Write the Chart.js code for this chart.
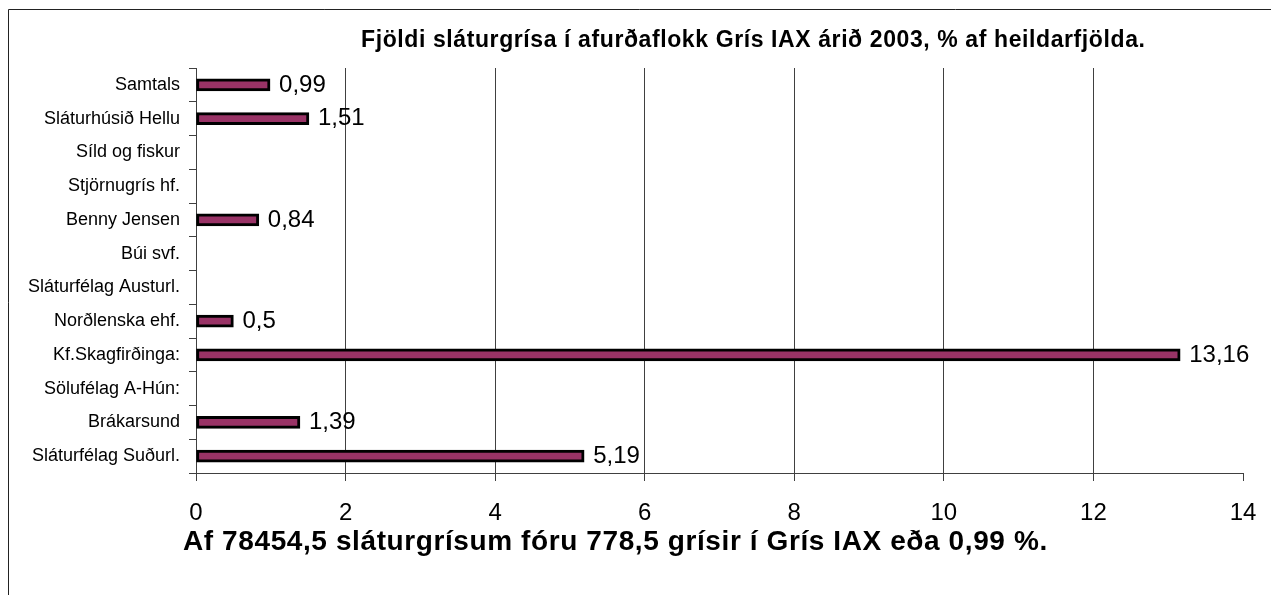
<!DOCTYPE html>
<html>
<head>
<meta charset="utf-8">
<script src="https://cdn.jsdelivr.net/npm/chart.js@4"></script>
<style>
  html, body { margin: 0; padding: 0; background: #fff; }
  #wrap { width: 1271px; height: 595px; position: relative; }
</style>
</head>
<body>
<div id="wrap"><canvas id="myBarChart"></canvas></div>
<script>
// data, top to bottom
var categories = ['Samtals', 'Sláturhúsið Hellu', 'Síld og fiskur', 'Stjörnugrís hf.', 'Benny Jensen', 'Búi svf.',
  'Sláturfélag Austurl.', 'Norðlenska ehf.', 'Kf.Skagfirðinga:', 'Sölufélag A-Hún:', 'Brákarsund', 'Sláturfélag Suðurl.'];
var percentIAX = [0.99, 1.51, null, null, 0.84, null, null, 0.5, 13.16, null, 1.39, 5.19];
var xTicks = [0, 2, 4, 6, 8, 10, 12, 14];

var chartTitle = 'Fjöldi sláturgrísa í afurðaflokk Grís IAX árið 2003, % af heildarfjölda.';
var caption = 'Af 78454,5 sláturgrísum fóru 778,5 grísir í Grís IAX eða 0,99 %.';

var FONT = '"Liberation Sans", Arial, sans-serif';

// frame, title, caption and value labels
var decorations = {
  id: 'decorations',
  beforeDraw: function(chart) {
    var c = chart.ctx;
    c.save();
    c.strokeStyle = '#222';
    c.lineWidth = 1;
    c.beginPath();
    c.moveTo(8.5, 595);
    c.lineTo(8.5, 9.5);
    c.lineTo(1271, 9.5);
    c.stroke();
    c.restore();
  },
  afterDatasetsDraw: function(chart) {
    var c = chart.ctx;
    c.save();
    c.fillStyle = '#000';
    c.font = '24px ' + FONT;
    c.textBaseline = 'middle';
    c.textAlign = 'left';
    var meta = chart.getDatasetMeta(0);
    meta.data.forEach(function(bar, i) {
      var v = percentIAX[i];
      if (v === null) return;
      c.fillText(String(v).replace('.', ','), bar.x + 9, bar.y);
    });

    c.textBaseline = 'alphabetic';
    c.font = 'bold 23px ' + FONT;
    c.letterSpacing = '0.6px';
    c.textAlign = 'left';
    c.fillText(chartTitle, 361, 47);

    c.font = 'bold 28px ' + FONT;
    c.letterSpacing = '0.6px';
    c.fillText(caption, 183, 550);
    c.restore();
  }
};

document.addEventListener('DOMContentLoaded', function() {
  var ctx = document.getElementById('myBarChart').getContext('2d');
  new Chart(ctx, {
    type: 'bar',
    data: {
      labels: categories,
      datasets: [{
        data: percentIAX,
        backgroundColor: '#993366',
        borderColor: '#000',
        borderWidth: 3,
        borderSkipped: false,
        barThickness: 12
      }]
    },
    options: {
      indexAxis: 'y',
      responsive: true,
      maintainAspectRatio: false,
      animation: false,
      layout: { padding: { left: 0, top: 68, right: 28, bottom: 66 } },
      plugins: {
        legend: { display: false },
        tooltip: { enabled: false }
      },
      scales: {
        x: {
          min: 0,
          max: 14,
          afterBuildTicks: function(s) { s.ticks = xTicks.map(function(v) { return { value: v }; }); },
          afterFit: function(s) { s.height = 56; s.paddingLeft = 0; s.paddingRight = 0; },
          grid: {
            color: function(c) { return (c.tick && (c.tick.value === 14 || c.tick.value === 0)) ? 'rgba(0,0,0,0)' : '#404040'; },
            tickColor: '#404040',
            tickLength: 8,
            lineWidth: 1
          },
          border: { color: '#404040', width: 1 },
          ticks: { color: '#000', font: { family: FONT, size: 24 }, padding: 18, maxRotation: 0 }
        },
        y: {
          afterFit: function(s) { s.width = 196; s.paddingTop = 0; s.paddingBottom = 0; },
          grid: {
            drawOnChartArea: false,
            tickColor: '#404040',
            tickLength: 7
          },
          border: { color: '#404040', width: 1 },
          ticks: { color: '#000', font: { family: FONT, size: 18 }, padding: 9 }
        }
      }
    },
    plugins: [decorations]
  });
});
</script>
</body>
</html>
